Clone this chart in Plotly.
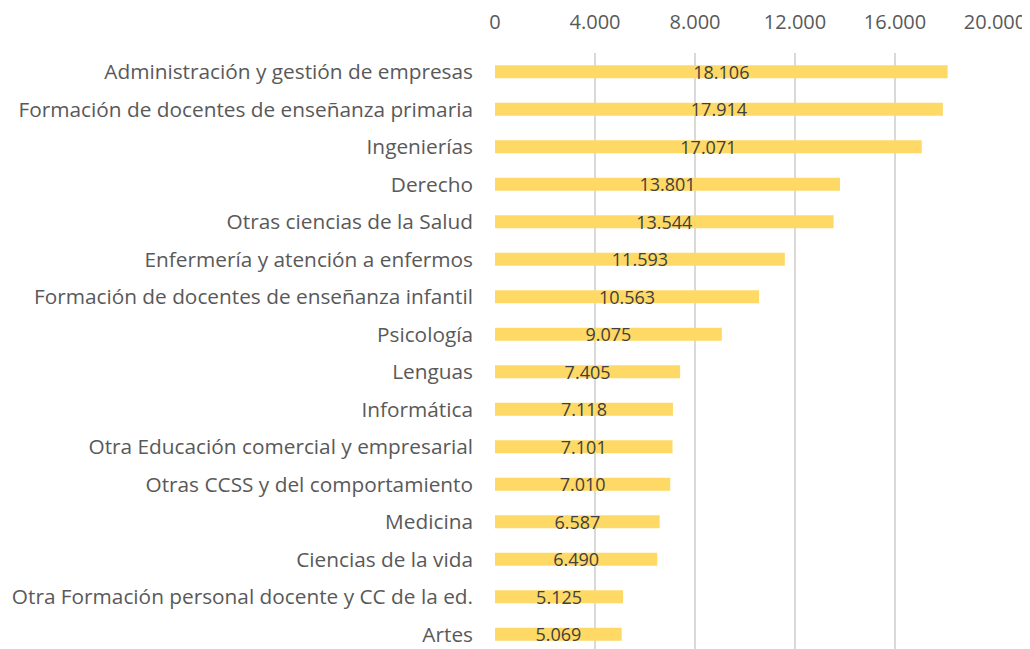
import plotly.graph_objects as go

categories = [
    "Administración y gestión de empresas",
    "Formación de docentes de enseñanza primaria",
    "Ingenierías",
    "Derecho",
    "Otras ciencias de la Salud",
    "Enfermería y atención a enfermos",
    "Formación de docentes de enseñanza infantil",
    "Psicología",
    "Lenguas",
    "Informática",
    "Otra Educación comercial y empresarial",
    "Otras CCSS y del comportamiento",
    "Medicina",
    "Ciencias de la vida",
    "Otra Formación personal docente y CC de la ed.",
    "Artes",
]
values = [18106, 17914, 17071, 13801, 13544, 11593, 10563, 9075,
          7405, 7118, 7101, 7010, 6587, 6490, 5125, 5069]
x_ticks = [0, 4000, 8000, 12000, 16000, 20000]

positions = list(range(len(categories)))

fig = go.Figure(go.Bar(
    x=values,
    y=positions,
    orientation="h",
    marker=dict(color="#FFD966", line=dict(width=0)),
    width=0.35,
    text=values,
    texttemplate="%{x:,d}",
    textposition="inside",
    insidetextanchor="middle",
    textangle=0,
    constraintext="none",
    cliponaxis=False,
    textfont=dict(family="Open Sans, sans-serif", size=18, color="#404040"),
    hoverinfo="skip",
))

fig.update_layout(
    width=1030, height=649,
    margin=dict(l=487, r=43, t=45, b=4),
    paper_bgcolor="white", plot_bgcolor="white",
    separators=",.",
    showlegend=False,
    uniformtext=dict(minsize=18, mode="show"),
    xaxis=dict(
        side="top", range=[0, 20000], tickvals=x_ticks, tickformat=",d",
        showgrid=True, gridcolor="#D9D9D9", gridwidth=2,
        zeroline=False, showline=False, ticks="",
        ticklabelstandoff=19, automargin=False,
        tickfont=dict(family="Open Sans, sans-serif", size=20, color="#595959"),
    ),
    yaxis=dict(
        range=[15.5, -0.5], tickvals=positions, ticktext=categories,
        showgrid=False, zeroline=False, showline=False, ticks="",
        ticklabelstandoff=21, automargin=False,
        tickfont=dict(family="Open Sans, sans-serif", size=20.8, color="#595959"),
    ),
)

fig.write_html("out.html")
